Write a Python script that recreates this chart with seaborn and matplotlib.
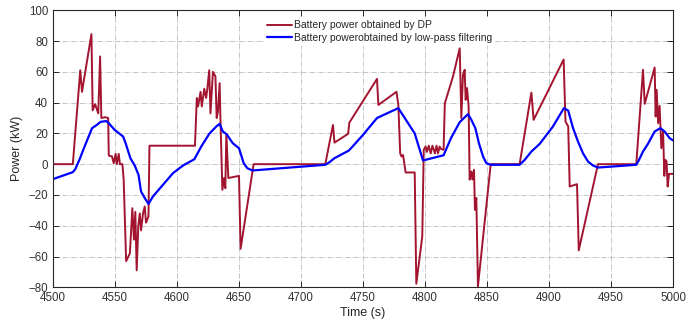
import seaborn as sns
import pandas as pd
import matplotlib.pyplot as plt

# Battery power obtained by DP (time in s, power in kW)
dp_time = [4500, 4516, 4522, 4523.4, 4531, 4532, 4534, 4536.5, 4538, 4539,
           4542, 4544.5, 4545, 4547.6, 4549, 4550.5, 4551.5, 4553, 4554, 4556,
           4557, 4559, 4562, 4564, 4565.3, 4566.4, 4567.5, 4568.8, 4570, 4571,
           4572.6, 4574, 4575, 4577, 4577.8, 4614.5, 4616, 4617, 4619, 4620,
           4622, 4623.5, 4624.5, 4626, 4627, 4629, 4631, 4632, 4633, 4634.4,
           4635, 4636.6, 4638, 4639, 4639.8, 4641.4, 4650, 4651.3, 4661.8, 4719.6,
           4725.8, 4727, 4738, 4739, 4761.3, 4762.4, 4777, 4778.5, 4780, 4781,
           4782.3, 4784.4, 4791.7, 4793, 4797.8, 4799, 4800.5, 4801.5, 4803, 4804.6,
           4806, 4808, 4809.3, 4810.5, 4811.8, 4813, 4815, 4816, 4822.6, 4828,
           4829.3, 4830.6, 4832, 4832.8, 4833.9, 4835.2, 4836, 4837.4, 4838.2, 4839.5,
           4840.3, 4841.4, 4842.7, 4853, 4876.3, 4885.8, 4887.6, 4911.8, 4913.3, 4915.5,
           4916.7, 4922.6, 4924, 4939.5, 4970.4, 4975.8, 4977.2, 4985.2, 4986, 4986.8,
           4988, 4989.2, 4990.6, 4992, 4993, 4993.8, 4994.8, 4995.7, 4996.8, 5000]
dp_power = [0, 0, 61, 47, 84.5, 35, 39, 33, 70, 30,
            30.5, 30, 5.6, 5, 0.6, 6.7, 0, 6.7, 0, 0,
            -10, -63, -58, -28.6, -49, -31, -69, -40, -32, -43,
            -32, -27.5, -38, -34, 12, 12, 43, 37.5, 47, 37.5,
            49, 43, 49, 61, 33, 60, 57, 30, 34, 52.6,
            31, -16.7, -9, -15.6, 19.7, -9, -7.6, -55, 0, 0,
            25.5, 14, 19.7, 27, 55.4, 38.5, 47, 38.5, 7.1, 5,
            6, -5.4, -5.4, -77.7, -47, 9.3, 11.5, 8, 12, 7,
            12, 7, 12, 7, 11.5, 9.8, 9.3, 39.6, 57, 75.3,
            30, 58, 61.3, 41.8, 49.4, 37.4, -10, -4.8, -10, -3.7,
            -29.7, -22, -79.4, 0, 0, 46.5, 28.8, 68, 27.7, 24.5,
            -14.5, -13, -56, 0, 0, 61.3, 39.2, 62.8, 31, 48.3,
            26.6, 37.9, 10.4, 21.2, -7.6, 2.8, 1.8, -14.5, -6.3, -6.3]

# Battery power obtained by low-pass filtering
lp_time = [4500, 4516, 4518, 4521.5, 4525.5, 4531.5, 4535, 4538.4, 4543, 4545,
           4549.7, 4556.5, 4558.6, 4562.4, 4566, 4569, 4571, 4574, 4577, 4580.6,
           4588.7, 4596.8, 4604.8, 4614, 4619.6, 4626, 4631.7, 4634.4, 4637, 4640,
           4645, 4650, 4653.8, 4656.7, 4660.8, 4719.6, 4723, 4727, 4738.7, 4750,
           4761.3, 4778.5, 4791.7, 4798.4, 4815, 4821, 4828, 4834.7, 4837.4, 4840.6,
           4843.5, 4846.8, 4849.5, 4853, 4876.3, 4880.4, 4885.8, 4892.5, 4903.2, 4912,
           4915.5, 4919.4, 4923.4, 4927.4, 4931.5, 4935.5, 4939.5, 4970.4, 4972.6, 4975.8,
           4979.8, 4985.2, 4989.8, 4993.3, 4997.3, 5000]
lp_power = [-9.7, -5.2, -3.2, 3.2, 11.5, 23.4, 25.3, 27.5, 28, 26.6,
            22.3, 18, 13.6, 3.9, -1, -7, -17.7, -22, -25.8, -21,
            -13.4, -5.8, -0.9, 3.2, 11.5, 19.7, 24.5, 26.2, 21.2, 19.5,
            13.6, 10.4, 0.6, -2.6, -4.1, -0.4, 1.3, 3.9, 8.9, 19,
            30, 36.4, 20, 2.4, 5.8, 17, 27.3, 32.5, 28.8, 23.4,
            13.6, 5, 0.6, -0.4, -0.4, 2.8, 8.2, 13.2, 24.5, 36.4,
            34.8, 23.4, 14.7, 7.1, 1.7, -0.9, -2.2, -0.4, 2.8, 8.2,
            13.2, 21.2, 23.4, 21.2, 16.9, 15.4]

df_dp = pd.DataFrame({'time': dp_time, 'power': dp_power})
df_lp = pd.DataFrame({'time': lp_time, 'power': lp_power})

sns.set_style('white')
plt.rcParams['font.family'] = ['Liberation Sans', 'DejaVu Sans']

fig = plt.figure(figsize=(6.99, 3.24), dpi=100)
ax = fig.add_axes([0.0758, 0.1133, 0.887, 0.855])

sns.lineplot(data=df_dp, x='time', y='power', ax=ax, color='#A2142F', linewidth=1.4,
             sort=False, estimator=None, label='Battery power obtained by DP')
sns.lineplot(data=df_lp, x='time', y='power', ax=ax, color='#0000FF', linewidth=1.6,
             sort=False, estimator=None, label='Battery powerobtained by low-pass filtering')

ax.set_xlim(4500, 5000)
ax.set_ylim(-80, 100)
ax.set_xticks(range(4500, 5001, 50))
ax.set_yticks(range(-80, 101, 20))
ax.grid(True, linestyle='-.', color='#bcbcbc', linewidth=0.6)
ax.tick_params(direction='in', bottom=True, left=True, top=True, right=True,
               length=4, width=0.7, color='#262626',
               labelsize=8.3, labelcolor='#333333')
for s in ax.spines.values():
    s.set_color('#262626')
    s.set_linewidth(0.8)
ax.set_xlabel('Time (s)', fontsize=9, color='#262626', labelpad=2)
ax.set_ylabel('Power (kW)', fontsize=9, color='#262626', labelpad=4)

leg = ax.legend(loc='upper left', bbox_to_anchor=(0.34, 0.975), fontsize=7.5,
                frameon=True, fancybox=False, borderaxespad=0, borderpad=0.3,
                handlelength=2.4, handletextpad=0.2, labelspacing=0.25)
leg.get_frame().set_edgecolor('none')
leg.get_frame().set_facecolor('white')
leg.get_frame().set_alpha(1)

plt.savefig('out.png', dpi=100)
